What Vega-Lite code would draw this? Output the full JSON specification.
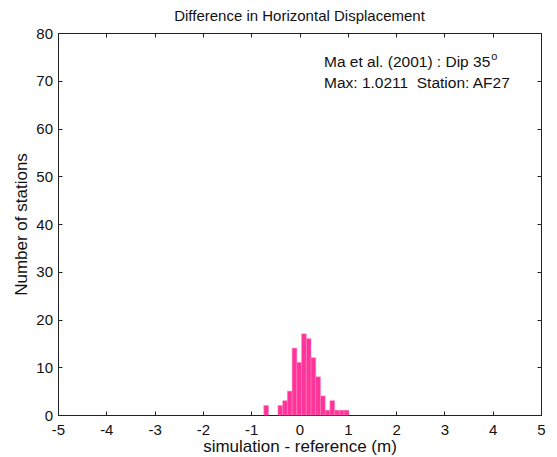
{
  "$schema": "https://vega.github.io/schema/vega-lite/v6.json",
  "width": 483,
  "height": 382,
  "autosize": {"type": "none"},
  "padding": {"left": 58, "top": 33, "right": 16, "bottom": 42},
  "background": "white",
  "config": {
    "view": {"stroke": "#222222", "strokeWidth": 1},
    "font": "Liberation Sans",
    "axis": {"grid": false, "domainColor": "#222222", "tickColor": "#222222", "labelColor": "#111111", "titleColor": "#111111", "labelFont": "Liberation Sans", "titleFont": "Liberation Sans", "labelFontWeight": "normal", "titleFontWeight": "normal"}
  },
  "title": {"text": "Difference in Horizontal Displacement", "fontSize": 15, "fontWeight": "normal", "font": "Liberation Sans", "color": "#111111", "offset": 2},
  "datasets": {
    "bars": [
      {"x0": -0.7393, "x1": -0.6415, "count": 2},
      {"x0": -0.4459, "x1": -0.3481, "count": 2},
      {"x0": -0.3481, "x1": -0.2503, "count": 3},
      {"x0": -0.2503, "x1": -0.1525, "count": 5},
      {"x0": -0.1525, "x1": -0.0547, "count": 14},
      {"x0": -0.0547, "x1": 0.0431, "count": 11},
      {"x0": 0.0431, "x1": 0.1409, "count": 17},
      {"x0": 0.1409, "x1": 0.2387, "count": 16},
      {"x0": 0.2387, "x1": 0.3365, "count": 12},
      {"x0": 0.3365, "x1": 0.4343, "count": 8},
      {"x0": 0.4343, "x1": 0.5321, "count": 4},
      {"x0": 0.5321, "x1": 0.6299, "count": 1},
      {"x0": 0.6299, "x1": 0.7277, "count": 3},
      {"x0": 0.7277, "x1": 0.8255, "count": 1},
      {"x0": 0.8255, "x1": 0.9233, "count": 1},
      {"x0": 0.9233, "x1": 1.0211, "count": 1}
    ],
    "notes": [
      {"x": 0.507, "y": 74.0, "text": "Ma et al. (2001) : Dip 35"},
      {"x": 0.507, "y": 69.6, "text": "Max: 1.0211\u00a0\u00a0Station: AF27"}
    ],
    "sup": [
      {"x": 3.97, "y": 75.0, "text": "o"}
    ]
  },
  "layer": [
    {
      "data": {"name": "bars"},
      "mark": {"type": "rect", "color": "#ff3399", "stroke": "#ff80bf", "strokeWidth": 0.5},
      "encoding": {
        "x": {"field": "x0", "type": "quantitative", "scale": {"domain": [-5, 5], "nice": false, "zero": false},
              "axis": {"orient": "bottom", "values": [-5,-4,-3,-2,-1,0,1,2,3,4,5], "tickSize": -4, "labelFontSize": 15, "labelPadding": 11, "labelFlush": false, "labelOverlap": false, "labelExpr": "datum.value < 0 ? '-' + abs(datum.value) : '' + datum.value", "title": "simulation - reference (m)", "titleFontSize": 17, "titlePadding": 1}},
        "x2": {"field": "x1"},
        "y": {"field": "count", "type": "quantitative", "scale": {"domain": [0, 80], "nice": false},
              "axis": {"orient": "left", "values": [0,10,20,30,40,50,60,70,80], "tickSize": -4, "labelFontSize": 15, "labelPadding": 9.5, "labelFlush": false, "labelOverlap": false, "title": "Number of stations", "titleFontSize": 17, "titlePadding": 5}},
        "y2": {"datum": 0}
      }
    },
    {
      "data": {"name": "bars"},
      "mark": {"type": "rect", "opacity": 0},
      "encoding": {
        "x": {"field": "x0", "type": "quantitative", "axis": {"orient": "top", "values": [-5,-4,-3,-2,-1,0,1,2,3,4,5], "tickSize": -4, "labels": false, "domain": false, "title": null}},
        "x2": {"field": "x1"},
        "y": {"field": "count", "type": "quantitative", "axis": {"orient": "right", "values": [0,10,20,30,40,50,60,70,80], "tickSize": -4, "labels": false, "domain": false, "title": null}},
        "y2": {"datum": 0}
      }
    },
    {
      "data": {"name": "notes"},
      "mark": {"type": "text", "align": "left", "baseline": "middle", "fontSize": 15.5, "font": "Liberation Sans", "color": "#111111"},
      "encoding": {
        "x": {"field": "x", "type": "quantitative", "axis": null},
        "y": {"field": "y", "type": "quantitative", "axis": null},
        "text": {"field": "text"}
      }
    },
    {
      "data": {"name": "sup"},
      "mark": {"type": "text", "align": "left", "baseline": "middle", "fontSize": 11, "font": "Liberation Sans", "color": "#111111"},
      "encoding": {
        "x": {"field": "x", "type": "quantitative", "axis": null},
        "y": {"field": "y", "type": "quantitative", "axis": null},
        "text": {"field": "text"}
      }
    }
  ],
  "resolve": {"axis": {"x": "independent", "y": "independent"}}
}
